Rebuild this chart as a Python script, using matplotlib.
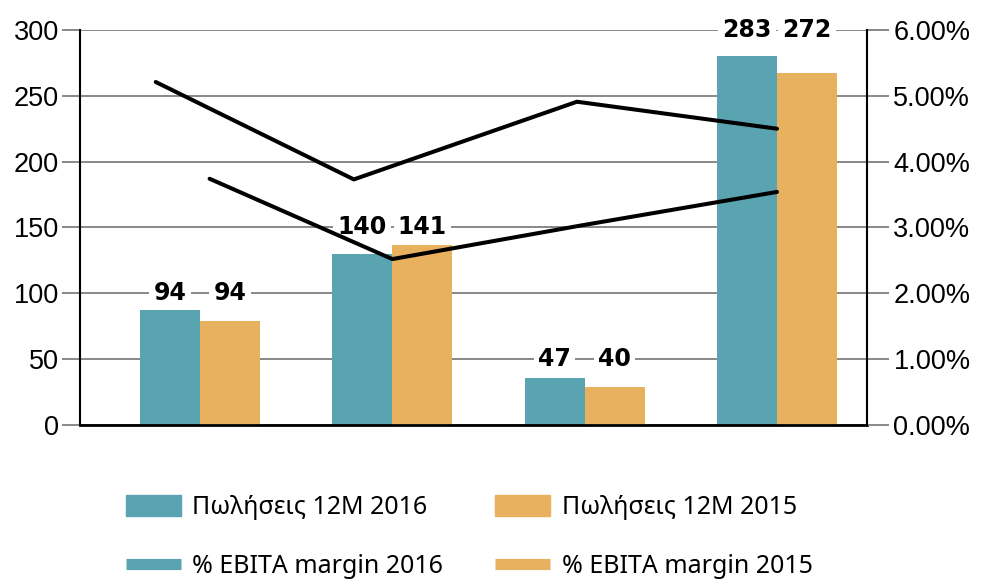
import numpy as np
import matplotlib.pyplot as plt
from matplotlib.lines import Line2D
from matplotlib.patches import Patch
from matplotlib.ticker import PercentFormatter

# data
groups = [0, 1, 2, 3]
sales_2016 = [87, 130, 36, 280]
sales_2015 = [79, 137, 29, 267]
labels_2016 = ["94", "140", "47", "283"]
labels_2015 = ["94", "141", "40", "272"]

margin_2016_x = [-0.23, 0.8, 1.96, 3.0]
margin_2016 = [0.0521, 0.0373, 0.0491, 0.0450]
margin_2015_x = [0.05, 1.0, 2.0, 3.0]
margin_2015 = [0.0374, 0.0252, 0.0304, 0.0354]

teal = "#5aa3b1"
orange = "#e8b15f"
grid_grey = "#7f7f7f"

plt.rcParams['font.family'] = ['Liberation Sans', 'DejaVu Sans']

fig = plt.figure(figsize=(9.81, 5.82), dpi=100)
ax = fig.add_axes([0.0815, 0.2698, 0.8023, 0.6787])

x = np.array(groups)
w = 0.312
ax.bar(x - w / 2, sales_2016, w, color=teal, zorder=2)
ax.bar(x + w / 2, sales_2015, w, color=orange, zorder=2)

ax.set_xlim(-0.624, 3.468)
ax.set_ylim(0, 300)
ax.set_yticks(range(0, 301, 50))
ax.set_xticks([])
ax.yaxis.grid(True, color=grid_grey, lw=1.3, zorder=0)
ax.set_axisbelow(True)
ax.tick_params(axis='y', length=13, width=1.3, color=grid_grey, labelsize=19.5, pad=2)
for s in ['top', 'right']:
    ax.spines[s].set_visible(False)
ax.spines['left'].set_linewidth(1.5)
ax.spines['bottom'].set_linewidth(2)

# value labels sit on the gridline above each group
for i in range(len(groups)):
    top = max(sales_2016[i], sales_2015[i])
    ly = np.ceil(top / 50) * 50
    for dx, txt in [(-w / 2, labels_2016[i]), (w / 2, labels_2015[i])]:
        ax.text(x[i] + dx, ly, txt, ha='center', va='center', fontsize=17,
                fontweight='bold', family=['DejaVu Sans'], zorder=3,
                bbox=dict(boxstyle='square,pad=0.18', fc='white', ec='none'))

ax2 = ax.twinx()
ax2.set_ylim(0, 0.06)
ax2.set_yticks(np.arange(0, 0.061, 0.01))
ax2.yaxis.set_major_formatter(PercentFormatter(xmax=1, decimals=2))
ax2.tick_params(axis='y', length=16, width=1.3, color=grid_grey, labelsize=19.5, pad=3)
for s in ['top', 'left', 'bottom']:
    ax2.spines[s].set_visible(False)
ax2.spines['right'].set_linewidth(1.5)

ax2.plot(margin_2016_x, margin_2016, color='black', lw=2.9, solid_capstyle='round', zorder=4)
ax2.plot(margin_2015_x, margin_2015, color='black', lw=2.9, solid_capstyle='round', zorder=4)

handles = [
    Patch(color=teal),
    Line2D([], [], color=teal, lw=8, solid_capstyle='butt'),
    Patch(color=orange),
    Line2D([], [], color=orange, lw=8, solid_capstyle='butt'),
]
names = ["Πωλήσεις 12M 2016", "% EBITA margin 2016",
         "Πωλήσεις 12M 2015", "% EBITA margin 2015"]
fig.legend(handles, names, ncol=2, loc='upper left', bbox_to_anchor=(0.118, 0.166),
           frameon=False, prop={'family': ['Noto Sans', 'DejaVu Sans'], 'size': 18},
           handlelength=2.2, handleheight=0.9, handletextpad=0.45,
           labelspacing=1.35, columnspacing=2.1, borderaxespad=0)

fig.savefig("out.png", dpi=100)
